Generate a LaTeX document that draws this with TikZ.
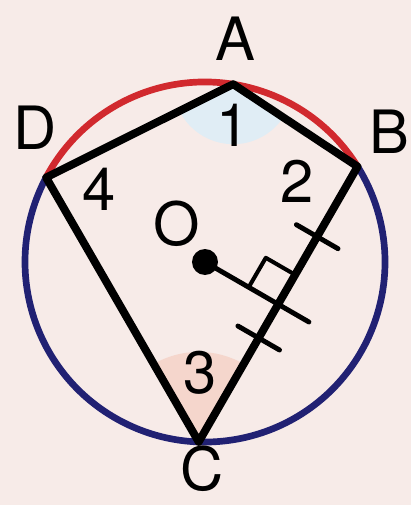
\documentclass[tikz,border=0pt]{standalone}
\usepackage{fontspec}
\setmainfont{TeX Gyre Heros}
\definecolor{fzeuet}{rgb}{0.97,0.92,0.91}
\definecolor{ccqqqq}{rgb}{0.82,0.16,0.18}
\definecolor{qqqqwu}{rgb}{0.13,0.13,0.45}
\definecolor{eueofz}{rgb}{0.88,0.93,0.96}
\definecolor{fzdzcc}{rgb}{0.96,0.84,0.80}
\begin{document}
\begin{tikzpicture}[line cap=round,line join=round,x=0.02cm,y=0.02cm,
    lbl/.style={font=\fontsize{34}{34}\selectfont,inner sep=1pt}]
        \fill [color=fzeuet] (0,0) rectangle (411,505);
        \useasboundingbox (0,0) rectangle (411,505);
        \coordinate (O) at (205,243);
        \coordinate (A) at (233.2,420.8);
        \coordinate (B) at (357.6,338.4);
        \coordinate (C) at (198.7,63.1);
        \coordinate (D) at (46.1,327.5);
        \coordinate (F) at (278.15,200.75);
        \coordinate (E) at (308.9,183);
        \coordinate (P1) at (295.2,230.2);
        \coordinate (P2) at (265.8,247.2);
        \coordinate (P3) at (248.7,217.75);
        \coordinate (T1a) at (237.9,179);
        \coordinate (T1b) at (279.5,155);
        \coordinate (T2a) at (296.4,280.3);
        \coordinate (T2b) at (338,256.3);
        % shaded angles
        \fill [color=eueofz] (A) -- ++(206.5:60) arc [start angle=206.5,end angle=326.5,radius=60] -- cycle;
        \fill [color=fzdzcc] (C) -- ++(60:90) arc [start angle=60,end angle=120,radius=90] -- cycle;
        % circle
        \draw [line width=3.8pt,color=ccqqqq] (B) arc [start angle=32,end angle=152,radius=180];
        \draw [line width=3.8pt,color=qqqqwu] (D) arc [start angle=152,end angle=392,radius=180];
        % quadrilateral
        \draw [line width=4.5pt] (D)-- (A)-- (B)-- (C)-- cycle;
        \draw [line width=2.8pt] (O)-- (E);
        \draw [line width=2.3pt] (P1)-- (P2)-- (P3);
        \draw [line width=2.8pt] (T1a)-- (T1b);
        \draw [line width=2.8pt] (T2a)-- (T2b);
        \fill (O) circle (13);
        \node [lbl] (labA) at (235,466) {A};
        \node [lbl] (labB) at (389,373) {B};
        \node [lbl] (labC) at (202,36) {C};
        \node [lbl] (labD) at (35,377) {D};
        \node [lbl] (labO) at (177,281) {O};
        \node [lbl] (ang1) at (233,380) {1};
        \node [lbl] (ang2) at (297,324) {2};
        \node [lbl] (ang3) at (200,132) {3};
        \node [lbl] (ang4) at (99,316) {4};
    \end{tikzpicture}
\end{document}
